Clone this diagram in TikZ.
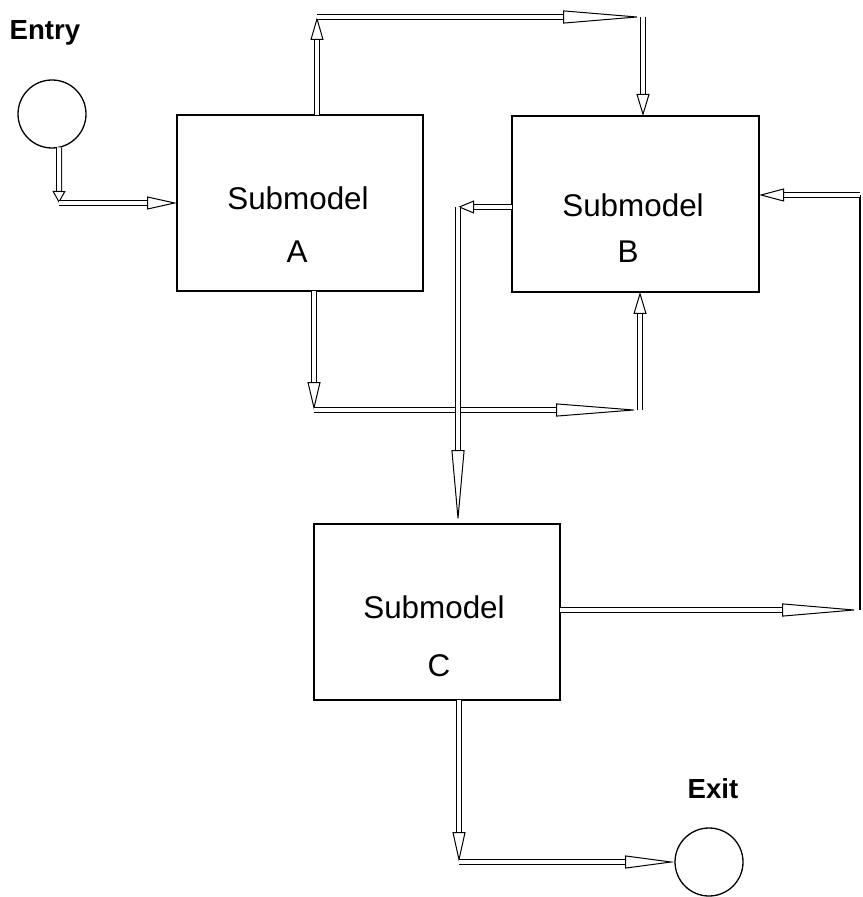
\documentclass[tikz,border=0pt]{standalone}
\usepackage{fontspec}
\setmainfont{Liberation Sans}
\usetikzlibrary{arrows.meta}
\begin{document}
\begin{tikzpicture}[x=0.5pt,y=-0.5pt,
  box/.style={draw, line width=0.7pt, inner sep=0pt, outer sep=0pt},
  term/.style={draw, circle, line width=0.65pt, minimum size=34pt, inner sep=0pt, outer sep=0pt},
  lbl/.style={anchor=base, inner sep=0pt, font=\fontsize{15.7}{18}\selectfont},
  ttl/.style={anchor=base, inner sep=0pt, font=\fontsize{13.8}{16}\selectfont\bfseries},
  flow/.style={draw, double, line width=0.5pt, double distance=2pt,
    -{Triangle[open, length=#1, width=6.5pt]}},
  plain/.style={draw, line width=0.6pt}]
\useasboundingbox (0,0) rectangle (862,897);

% terminals
\node[term] (entry) at (52,114) {};
\node[term] (exit) at (709,862) {};
\node[ttl] (entrytxt) at (45,40) {Entry};
\node[ttl] (exittxt) at (713,798) {Exit};

% submodels
\node[box, minimum width=123pt, minimum height=88pt] (A) at (300,203) {};
\node[box, minimum width=123.5pt, minimum height=88pt] (B) at (635.5,204) {};
\node[box, minimum width=123pt, minimum height=88pt] (C) at (437,612) {};
\node[lbl] (A1) at (298,210) {Submodel};
\node[lbl] (A2) at (297,263) {A};
\node[lbl] (B1) at (633,217) {Submodel};
\node[lbl] (B2) at (628,263) {B};
\node[lbl] (C1) at (434,618) {Submodel};
\node[lbl] (C2) at (439,676) {C};

% bends of the flow lines
\coordinate (k1) at (59,203);
\coordinate (k2) at (317,17);
\coordinate (k3) at (643,17);
\coordinate (k4) at (314,410);
\coordinate (k5) at (640,410);
\coordinate (k6) at (458,207);
\coordinate (k7) at (860,610);
\coordinate (k8) at (860,195);
\coordinate (k9) at (459,862);

% entry into A
\draw[flow=6pt] (entry.-78) -- (k1);
\draw[flow=15pt] (k1) -- (k1 -| A.west);
% A over the top into B
\draw[flow=11.5pt] (k2 |- A.north) -- (k2);
\draw[flow=40pt] (k2) -- (k3);
\draw[flow=11pt] (k3) -- (k3 |- B.north);
% A underneath into B
\draw[flow=14pt] (k4 |- A.south) -- (k4);
\draw[flow=42pt] (k4) -- (k5);
\draw[flow=11pt] (k5) -- (k5 |- B.south);
% B down into C
\draw[flow=8pt] (k6 -| B.west) -- (k6);
\draw[flow=37pt] (k6) -- (k6 |- C.north);
% C back round to B
\draw[flow=39pt] (k7 -| C.east) -- (k7);
\draw[plain] (k7) -- (k8);
\draw[flow=12.5pt] (k8) -- (k8 -| B.east);
% C out to exit
\draw[flow=15pt] (k9 |- C.south) -- (k9);
\draw[flow=25pt] (k9) -- (exit.west);
\end{tikzpicture}
\end{document}
